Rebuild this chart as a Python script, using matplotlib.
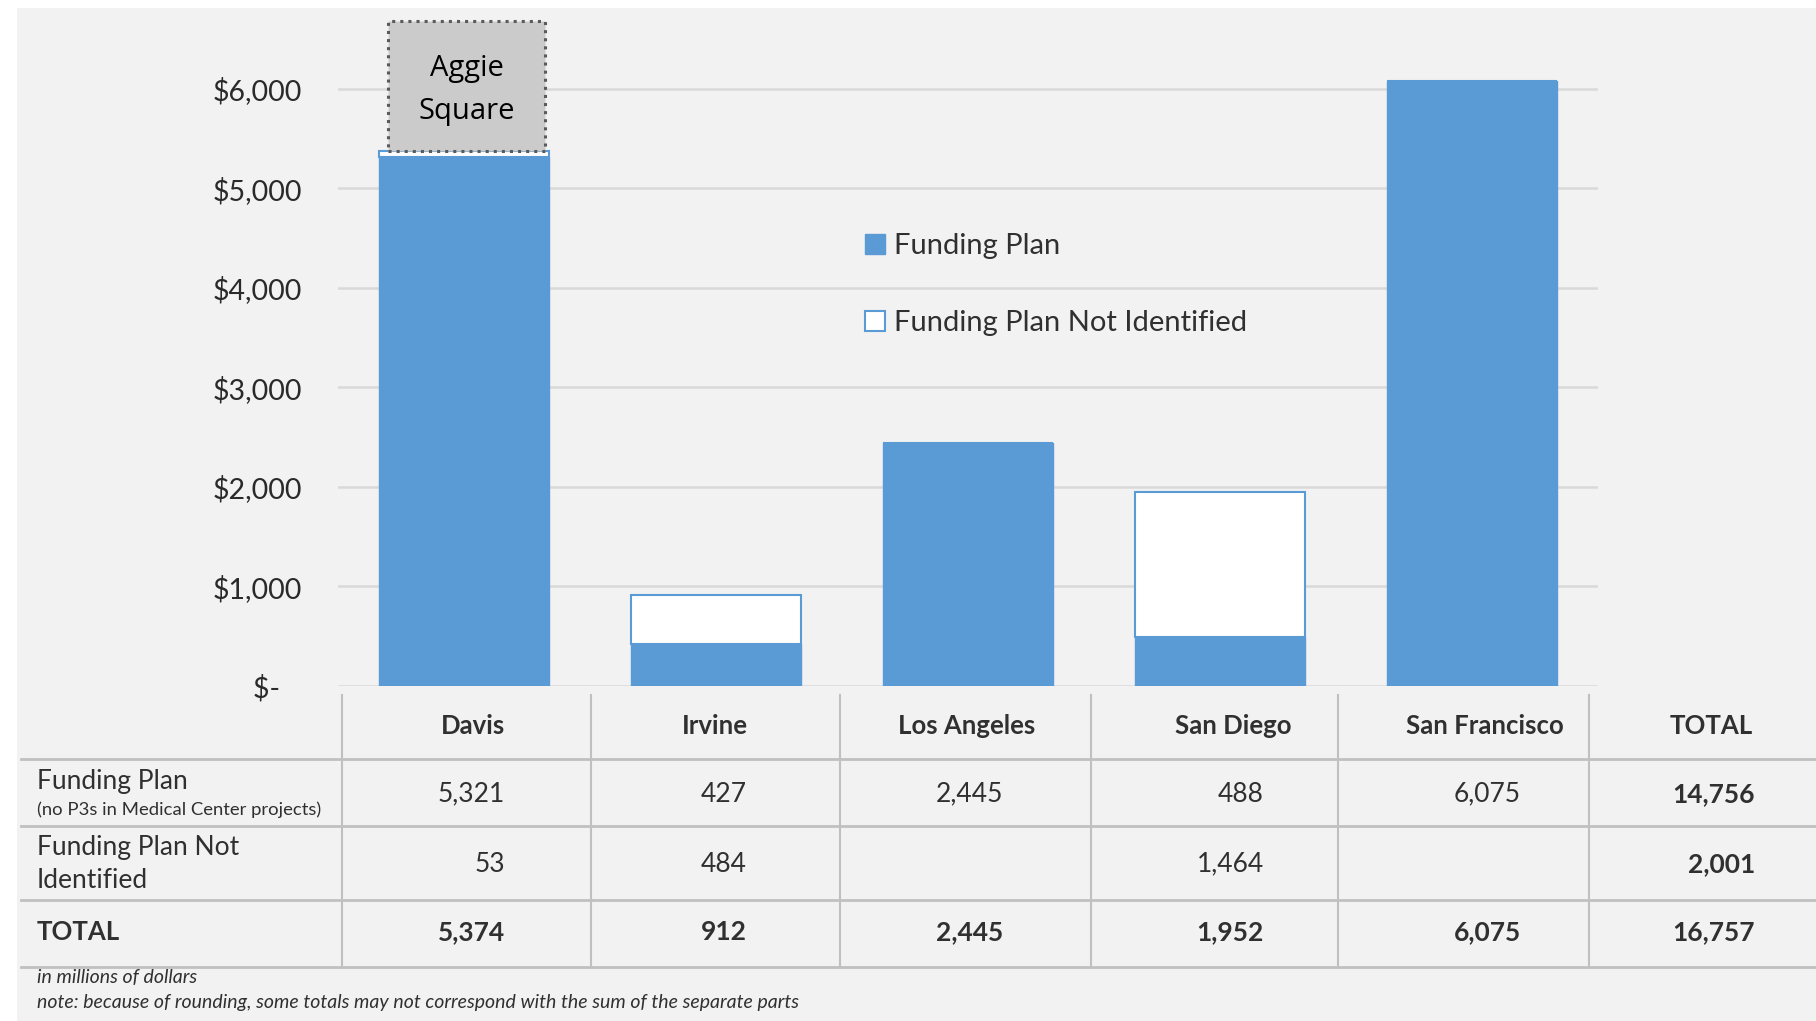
import matplotlib.pyplot as plt
from matplotlib.patches import Rectangle, Patch
from matplotlib.lines import Line2D

# datos (millones de dolares)
campus = ['Davis', 'Irvine', 'Los Angeles', 'San Diego', 'San Francisco']
funding_plan = [5321, 427, 2445, 488, 6075]
not_identified = [53, 484, 0, 1464, 0]
totals = [5374, 912, 2445, 1952, 6075]
total_col = [14756, 2001, 16757]
y_ticks = [0, 1000, 2000, 3000, 4000, 5000, 6000]
y_labels = ['$-   ', '$1,000', '$2,000', '$3,000', '$4,000', '$5,000', '$6,000']
aggie_top = 6683

W, H = 1816, 1021
blue = '#5b9bd5'
txt = '#303030'
line_c = '#c0c0c0'

plt.rcParams['font.family'] = ['Lato', 'DejaVu Sans']

fig = plt.figure(figsize=(W / 100, H / 100), dpi=100)
fig.patch.set_facecolor('white')
fig.patches.append(Rectangle((17 / W, 0), 1, 1 - 8 / H, transform=fig.transFigure,
                             facecolor='#f2f2f2', edgecolor='none', zorder=-5))


def fx(px):
    return px / W


def fy(py):
    return 1 - py / H


ax = fig.add_axes([fx(338), fy(686), (1598 - 338) / W, 666.7 / H])
ax.set_facecolor('none')
ax.set_zorder(2)

x = list(range(len(campus)))
ax.bar(x, funding_plan, width=0.675, color=blue, edgecolor=blue, lw=1, zorder=3)
ax.bar(x, not_identified, width=0.675, bottom=funding_plan, color='white',
       edgecolor=blue, lw=1.5, zorder=3)

# caja Aggie Square
ax.add_patch(Rectangle((-0.30, totals[0]), 0.62, aggie_top - totals[0],
                       facecolor='#cbcbcb', edgecolor='#5a5a5a', ls=':', lw=2.2,
                       zorder=4, clip_on=False))
ax.text(0.01, 5990, 'Aggie\nSquare', ha='center', va='center',
        fontsize=21, color='black', family=['Open Sans', 'DejaVu Sans'],
        linespacing=1.6, zorder=5)

ax.set_xlim(-0.5, 4.5)
ax.set_ylim(0, 6700)
ax.set_yticks(y_ticks)
ax.set_yticklabels(y_labels, fontsize=20.5, color='#2a2a2a')
ax.set_xticks([])
ax.tick_params(axis='y', length=0, pad=26)
ax.yaxis.grid(True, color='#d9d9d9', lw=1.8, zorder=0)
for s in ax.spines.values():
    s.set_visible(False)

# leyenda
handles = [Patch(facecolor=blue, edgecolor=blue),
           Patch(facecolor='white', edgecolor=blue, lw=1.5)]
fig.legend(handles, ['Funding Plan', 'Funding Plan Not Identified'], loc='upper left',
           bbox_to_anchor=(fx(865), fy(233)), frameon=False, fontsize=21,
           handlelength=0.68, handleheight=0.68, handletextpad=0.3,
           labelspacing=1.75, borderpad=0, borderaxespad=0, labelcolor=txt)

# tabla
col_x = [342, 591, 840, 1091, 1338, 1589]
for cx in col_x:
    fig.add_artist(Line2D([fx(cx), fx(cx)], [fy(695), fy(967)], color=line_c, lw=1.5))
for ry in [759, 826, 900, 967]:
    fig.add_artist(Line2D([fx(21), 1], [fy(ry), fy(ry)], color=line_c, lw=2))

head_x = [473, 715, 967, 1233, 1485, 1711]
for hx, name in zip(head_x, campus + ['TOTAL']):
    fig.text(fx(hx), fy(726), name, ha='center', va='center', fontsize=18.5,
             fontweight='bold', color=txt)

right_x = [505, 747, 1003, 1264, 1521]
row_y = [794, 864, 932]
for i, rx in enumerate(right_x):
    fig.text(fx(rx), fy(row_y[0]), f'{funding_plan[i]:,}', ha='right', va='center',
             fontsize=19, color=txt)
    if not_identified[i]:
        fig.text(fx(rx), fy(row_y[1]), f'{not_identified[i]:,}', ha='right', va='center',
                 fontsize=19, color=txt)
    fig.text(fx(rx), fy(row_y[2]), f'{totals[i]:,}', ha='right', va='center',
             fontsize=19, fontweight='bold', color=txt)
for ry, v in zip(row_y, total_col):
    fig.text(fx(1755), fy(ry), f'{v:,}', ha='right', va='center', fontsize=19,
             fontweight='bold', color=txt)

fig.text(fx(37), fy(781), 'Funding Plan', ha='left', va='center', fontsize=19, color=txt)
fig.text(fx(37), fy(810), '(no P3s in Medical Center projects)', ha='left', va='center',
         fontsize=13.3, color=txt)
fig.text(fx(37), fy(847), 'Funding Plan Not', ha='left', va='center', fontsize=19, color=txt)
fig.text(fx(37), fy(881), 'Identified', ha='left', va='center', fontsize=19, color=txt)
fig.text(fx(37), fy(932), 'TOTAL', ha='left', va='center', fontsize=18.5, fontweight='bold',
         color=txt)

# notas al pie
fig.text(fx(37), fy(977), 'in millions of dollars', ha='left', va='center', fontsize=14,
         style='italic', color=txt)
fig.text(fx(37), fy(1002), 'note: because of rounding, some totals may not correspond '
         'with the sum of the separate parts', ha='left', va='center', fontsize=14,
         style='italic', color=txt)

fig.savefig('out.png', dpi=100)
